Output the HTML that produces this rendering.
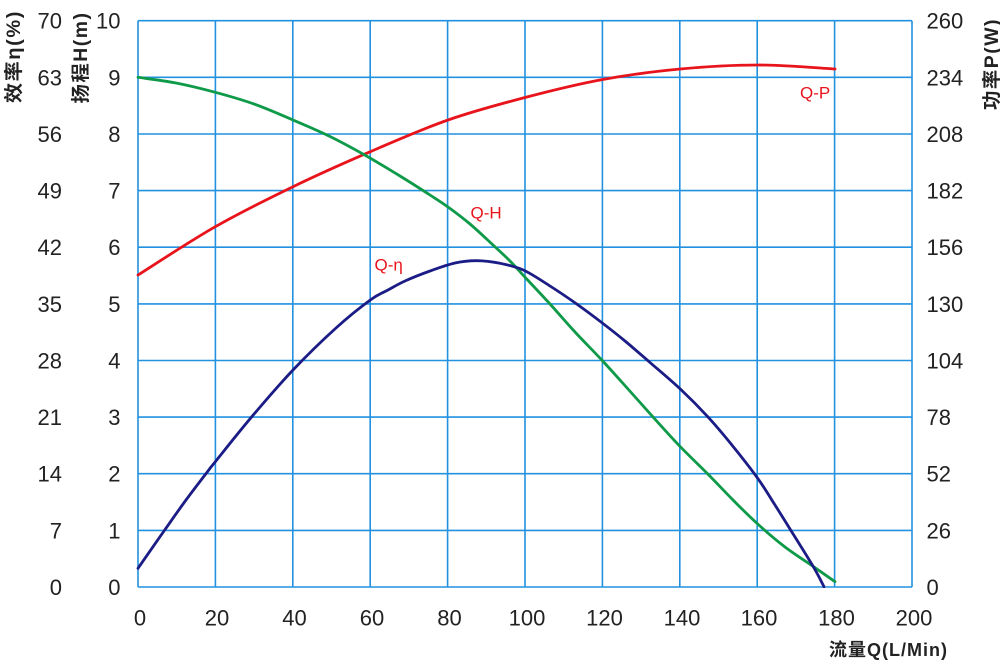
<!DOCTYPE html>
<html><head><meta charset="utf-8"><style>
html,body{margin:0;padding:0;background:#fff;}
svg{display:block;}
text{font-family:"Liberation Sans","Noto Sans CJK SC",sans-serif;}
</style></head><body>
<svg id="chart" width="1000" height="665" viewBox="0 0 1000 665" xmlns="http://www.w3.org/2000/svg">
<rect width="1000" height="665" fill="#fff"/>
<g stroke="#2191e0" stroke-width="1.6" fill="none">
<line x1="138" y1="20.7" x2="138" y2="587"/>
<line x1="215.4" y1="20.7" x2="215.4" y2="587"/>
<line x1="292.8" y1="20.7" x2="292.8" y2="587"/>
<line x1="370.2" y1="20.7" x2="370.2" y2="587"/>
<line x1="447.6" y1="20.7" x2="447.6" y2="587"/>
<line x1="525" y1="20.7" x2="525" y2="587"/>
<line x1="602.4" y1="20.7" x2="602.4" y2="587"/>
<line x1="679.8" y1="20.7" x2="679.8" y2="587"/>
<line x1="757.2" y1="20.7" x2="757.2" y2="587"/>
<line x1="834.6" y1="20.7" x2="834.6" y2="587"/>
<line x1="912" y1="20.7" x2="912" y2="587"/>
<line x1="138" y1="20.7" x2="912" y2="20.7"/>
<line x1="138" y1="77.3" x2="912" y2="77.3"/>
<line x1="138" y1="134" x2="912" y2="134"/>
<line x1="138" y1="190.6" x2="912" y2="190.6"/>
<line x1="138" y1="247.2" x2="912" y2="247.2"/>
<line x1="138" y1="303.9" x2="912" y2="303.9"/>
<line x1="138" y1="360.5" x2="912" y2="360.5"/>
<line x1="138" y1="417.1" x2="912" y2="417.1"/>
<line x1="138" y1="473.7" x2="912" y2="473.7"/>
<line x1="138" y1="530.4" x2="912" y2="530.4"/>
<line x1="138" y1="587" x2="912" y2="587"/>
</g>
<g fill="none" stroke-width="2.8" stroke-linejoin="round" stroke-linecap="round">
<polyline class="crv" stroke="#e8141c" points="138,275 215.3,226.7 293,186.7 370.3,151.7 448,120 525,97.5 602.7,79.5 680.3,69 757.7,65 835,69"/>
<polyline class="crv" stroke="#0e9a48" points="138,77.3 176,83 215.3,92.3 254,104 293,120 330,136.5 364.7,155 400,176 430,195 448,207 470,224 493,245 510,261 526.7,279 550,304 575,332 602.7,361 628,389 653.3,417.3 680.3,446.7 708.3,474.5 733,500 757.7,524 785,547 813.3,566.5 835,581.7"/>
<polyline class="crv" stroke="#1b1c85" points="138,568.3 164.7,530 186,500 208,471 215.3,461.7 251.3,417.3 293,370 336,328 370.3,300 388,290 405,281 430,271 455,263 476.7,260.7 500,263.3 523.3,270 550,286 576.7,304 602.7,323.3 625,341 650,362.5 680.3,389 708.3,417.3 733.3,446.7 757.7,478.3 775,505 790,529 813.3,566.7 824,586.7"/>
</g>
<g fill="#e8141c" font-size="17">
<text x="800" y="98.5">Q-P</text>
<text x="470.5" y="218.5">Q-H</text>
<text x="374.5" y="270.5">Q-η</text>
</g>
<g fill="#222" font-size="22" text-anchor="end">
<text x="62" y="28.7">70</text>
<text x="62" y="85.3">63</text>
<text x="62" y="142">56</text>
<text x="62" y="198.6">49</text>
<text x="62" y="255.2">42</text>
<text x="62" y="311.9">35</text>
<text x="62" y="368.5">28</text>
<text x="62" y="425.1">21</text>
<text x="62" y="481.7">14</text>
<text x="62" y="538.4">7</text>
<text x="62" y="595">0</text>
<text x="120.5" y="28.7">10</text>
<text x="120.5" y="85.3">9</text>
<text x="120.5" y="142">8</text>
<text x="120.5" y="198.6">7</text>
<text x="120.5" y="255.2">6</text>
<text x="120.5" y="311.9">5</text>
<text x="120.5" y="368.5">4</text>
<text x="120.5" y="425.1">3</text>
<text x="120.5" y="481.7">2</text>
<text x="120.5" y="538.4">1</text>
<text x="120.5" y="595">0</text>
</g>
<g fill="#222" font-size="22" text-anchor="start">
<text x="926.5" y="28.7">260</text>
<text x="926.5" y="85.3">234</text>
<text x="926.5" y="142">208</text>
<text x="926.5" y="198.6">182</text>
<text x="926.5" y="255.2">156</text>
<text x="926.5" y="311.9">130</text>
<text x="926.5" y="368.5">104</text>
<text x="926.5" y="425.1">78</text>
<text x="926.5" y="481.7">52</text>
<text x="926.5" y="538.4">26</text>
<text x="926.5" y="595">0</text>
</g>
<g fill="#222" font-size="22" text-anchor="middle">
<text x="140" y="625.5">0</text>
<text x="217" y="625.5">20</text>
<text x="294.5" y="625.5">40</text>
<text x="372" y="625.5">60</text>
<text x="449.5" y="625.5">80</text>
<text x="527" y="625.5">100</text>
<text x="604.5" y="625.5">120</text>
<text x="682" y="625.5">140</text>
<text x="759" y="625.5">160</text>
<text x="836.5" y="625.5">180</text>
<text x="914" y="625.5">200</text>
</g>
<g fill="#222" font-size="19" font-weight="bold">
<text x="829" y="656" font-size="18" letter-spacing="1">流量Q(L/Min)</text>
<text transform="translate(20,103) rotate(-90)" letter-spacing="1.5" textLength="93" lengthAdjust="spacingAndGlyphs">效率η(%)</text>
<text transform="translate(87,103.5) rotate(-90)" letter-spacing="1.5" textLength="92" lengthAdjust="spacingAndGlyphs">扬程H(m)</text>
<text transform="translate(998,110) rotate(-90)" letter-spacing="1.5" textLength="92" lengthAdjust="spacingAndGlyphs">功率P(W)</text>
</g>
</svg>
<script>
(function(){
var ns="http://www.w3.org/2000/svg";
var pls=document.querySelectorAll("polyline.crv");
for(var k=0;k<pls.length;k++){
var pl=pls[k];
var raw=pl.getAttribute("points").trim().split(/\s+/);
var p=raw.map(function(s){var a=s.split(",");return [parseFloat(a[0]),parseFloat(a[1])];});
var d="M"+p[0][0]+","+p[0][1];
for(var i=0;i<p.length-1;i++){
var p0=p[i>0?i-1:i],p1=p[i],p2=p[i+1],p3=p[i+2<p.length?i+2:i+1];
var c1x=p1[0]+(p2[0]-p0[0])/6,c1y=p1[1]+(p2[1]-p0[1])/6;
var c2x=p2[0]-(p3[0]-p1[0])/6,c2y=p2[1]-(p3[1]-p1[1])/6;
d+=" C"+c1x.toFixed(2)+","+c1y.toFixed(2)+" "+c2x.toFixed(2)+","+c2y.toFixed(2)+" "+p2[0]+","+p2[1];
}
var path=document.createElementNS(ns,"path");
path.setAttribute("d",d);
path.setAttribute("stroke",pl.getAttribute("stroke"));
path.setAttribute("fill","none");
pl.parentNode.replaceChild(path,pl);
}
})();
</script>
</body></html>
